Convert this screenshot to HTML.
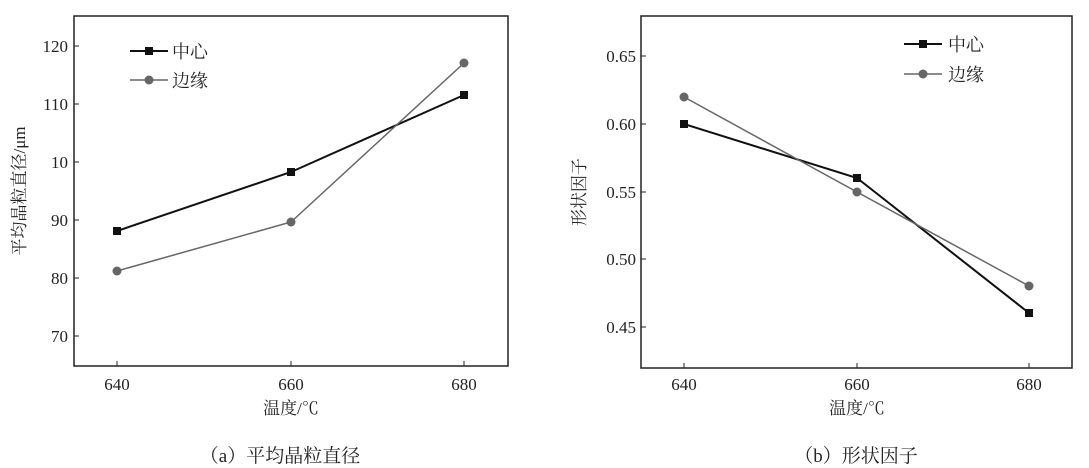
<!DOCTYPE html>
<html><head><meta charset="utf-8"><style>
html,body{margin:0;padding:0;background:#fff;}
svg{display:block;}
text{font-family:"Liberation Serif","Noto Serif CJK SC","Noto Sans CJK SC",serif;fill:#222;}
</style></head><body>
<svg width="1089" height="468" viewBox="0 0 1089 468" xmlns="http://www.w3.org/2000/svg">
<!-- Left chart -->
<rect x="74" y="16" width="434" height="350" fill="none" stroke="#222" stroke-width="1.5"/>
<g stroke="#222" stroke-width="1">
<line x1="74" y1="46" x2="79" y2="46"/><line x1="74" y1="104" x2="79" y2="104"/><line x1="74" y1="162" x2="79" y2="162"/>
<line x1="74" y1="220" x2="79" y2="220"/><line x1="74" y1="278" x2="79" y2="278"/><line x1="74" y1="336" x2="79" y2="336"/>
<line x1="117" y1="366" x2="117" y2="361"/><line x1="291" y1="366" x2="291" y2="361"/><line x1="464" y1="366" x2="464" y2="361"/>
</g>
<g font-size="17" text-anchor="end">
<text x="68" y="52">120</text><text x="68" y="110">110</text><text x="68" y="168">10</text>
<text x="68" y="226">90</text><text x="68" y="284">80</text><text x="68" y="342">70</text>
</g>
<g font-size="17" text-anchor="middle">
<text x="117" y="390">640</text><text x="291" y="390">660</text><text x="464" y="390">680</text>
<text x="291" y="414">温度/℃</text>
</g>
<text font-size="17" text-anchor="middle" transform="translate(25,191) rotate(-90)">平均晶粒直径/μm</text>
<polyline points="117,231 291,172 464,95" fill="none" stroke="#111" stroke-width="2"/>
<polyline points="117,271 291,222 464,63" fill="none" stroke="#666" stroke-width="1.5"/>
<rect x="113" y="227" width="8" height="8" fill="#111"/><rect x="287" y="168" width="8" height="8" fill="#111"/><rect x="460" y="91" width="8" height="8" fill="#111"/>
<circle cx="117" cy="271" r="4.5" fill="#666"/><circle cx="291" cy="222" r="4.5" fill="#666"/><circle cx="464" cy="63" r="4.5" fill="#666"/>
<line x1="130" y1="51" x2="168" y2="51" stroke="#111" stroke-width="2"/><rect x="145" y="47" width="8" height="8" fill="#111"/>
<line x1="130" y1="80" x2="168" y2="80" stroke="#666" stroke-width="1.5"/><circle cx="149" cy="80" r="4.5" fill="#666"/>
<text x="172" y="58" font-size="18">中心</text><text x="172" y="87" font-size="18">边缘</text>

<!-- Right chart -->
<rect x="641" y="16" width="431" height="352" fill="none" stroke="#222" stroke-width="1.5"/>
<g stroke="#222" stroke-width="1">
<line x1="641" y1="56" x2="646" y2="56"/><line x1="641" y1="124" x2="646" y2="124"/><line x1="641" y1="192" x2="646" y2="192"/>
<line x1="641" y1="259" x2="646" y2="259"/><line x1="641" y1="327" x2="646" y2="327"/>
<line x1="684" y1="368" x2="684" y2="363"/><line x1="857" y1="368" x2="857" y2="363"/><line x1="1029" y1="368" x2="1029" y2="363"/>
</g>
<g font-size="17" text-anchor="end">
<text x="636" y="62">0.65</text><text x="636" y="130">0.60</text><text x="636" y="198">0.55</text>
<text x="636" y="265">0.50</text><text x="636" y="333">0.45</text>
</g>
<g font-size="17" text-anchor="middle">
<text x="684" y="390">640</text><text x="857" y="390">660</text><text x="1029" y="390">680</text>
<text x="857" y="414">温度/℃</text>
</g>
<text font-size="17" text-anchor="middle" transform="translate(585,192) rotate(-90)">形状因子</text>
<polyline points="684,124 857,178 1029,313" fill="none" stroke="#111" stroke-width="2"/>
<polyline points="684,97 857,192 1029,286" fill="none" stroke="#666" stroke-width="1.5"/>
<rect x="680" y="120" width="8" height="8" fill="#111"/><rect x="853" y="174" width="8" height="8" fill="#111"/><rect x="1025" y="309" width="8" height="8" fill="#111"/>
<circle cx="684" cy="97" r="4.5" fill="#666"/><circle cx="857" cy="192" r="4.5" fill="#666"/><circle cx="1029" cy="286" r="4.5" fill="#666"/>
<line x1="904" y1="44" x2="942" y2="44" stroke="#111" stroke-width="2"/><rect x="919" y="40" width="8" height="8" fill="#111"/>
<line x1="904" y1="74" x2="942" y2="74" stroke="#666" stroke-width="1.5"/><circle cx="923" cy="74" r="4.5" fill="#666"/>
<text x="948" y="51" font-size="18">中心</text><text x="948" y="81" font-size="18">边缘</text>

<!-- Captions -->
<text x="280" y="462" font-size="19" text-anchor="middle">（a）平均晶粒直径</text>
<text x="856" y="462" font-size="19" text-anchor="middle">（b）形状因子</text>
</svg>
</body></html>
